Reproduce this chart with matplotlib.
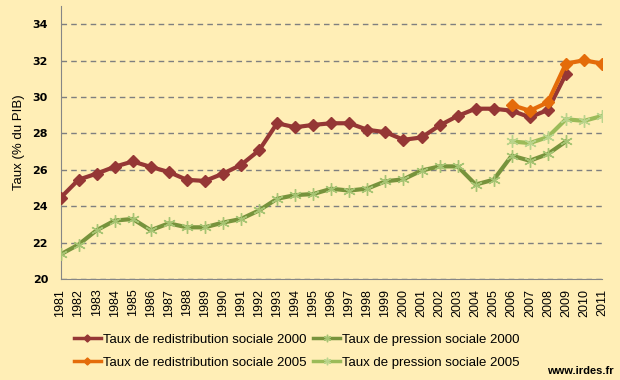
import numpy as np
import matplotlib.pyplot as plt

# years
years_2000 = list(range(1981, 2010))
years_2005 = list(range(2006, 2012))
year_labels = [str(y) for y in range(1981, 2012)]

# taux de redistribution sociale (base 2000)
redis_2000 = [24.46, 25.46, 25.79, 26.17, 26.46, 26.16, 25.88, 25.45, 25.39, 25.79,
              26.27, 27.07, 28.56, 28.34, 28.47, 28.56, 28.56, 28.20, 28.07, 27.65,
              27.78, 28.44, 28.96, 29.36, 29.36, 29.25, 28.89, 29.29, 31.26]
# taux de pression sociale (base 2000)
press_2000 = [21.35, 21.89, 22.68, 23.21, 23.30, 22.68, 23.06, 22.84, 22.84, 23.10,
              23.30, 23.77, 24.41, 24.61, 24.67, 24.96, 24.86, 24.97, 25.37, 25.48,
              25.96, 26.19, 26.19, 25.19, 25.46, 26.78, 26.50, 26.87, 27.56]
# base 2005
redis_2005 = [29.56, 29.25, 29.71, 31.84, 32.02, 31.84]
press_2005 = [27.56, 27.47, 27.80, 28.78, 28.69, 28.96]

bg = '#FFEEB6'
fig = plt.figure(figsize=(6.2, 3.8), dpi=100, facecolor=bg)
ax = fig.add_axes([0.0976, 0.2658, 0.8734, 0.7182], facecolor=bg)

star = (6, 2, 0)
ax.plot(years_2000, redis_2000, color='#953735', lw=3, marker='D', ms=6,
        label='Taux de redistribution sociale 2000', zorder=3)
ax.plot(years_2000, press_2000, color='#77933C', lw=3, marker=star, ms=9,
        mec='#A6C473', mew=1, label='Taux de pression sociale 2000', zorder=3)
ax.plot(years_2005, redis_2005, color='#E46C0A', lw=3, marker='D', ms=6,
        label='Taux de redistribution sociale 2005', zorder=3)
ax.plot(years_2005, press_2005, color='#9BBB59', lw=3, marker=star, ms=9,
        mec='#B9D48C', mew=1, label='Taux de pression sociale 2005', zorder=3)

ax.set_xlim(1981, 2011)
ax.set_ylim(20, 35)
ax.set_yticks(np.arange(20, 35, 2))
ax.set_yticklabels([str(v) for v in range(20, 35, 2)], fontsize=8,
                   fontweight='bold', family='DejaVu Sans')
ax.set_xticks(range(1981, 2012))
ax.set_xticklabels(year_labels, rotation=90, fontsize=9, family='Liberation Sans')
ax.tick_params(axis='x', length=0, pad=7)
ax.tick_params(axis='y', length=0, pad=9)
ax.yaxis.grid(True, color='#7F7F7F', ls=(0, (4, 3)), lw=1)
ax.set_axisbelow(True)
for s in ['top', 'right']:
    ax.spines[s].set_visible(False)
for s in ['left', 'bottom']:
    ax.spines[s].set_color('#868686')
ax.set_ylabel('Taux (% du PIB)', fontsize=9.5, family='Liberation Sans', labelpad=5)

h, l = ax.get_legend_handles_labels()
leg = fig.legend([h[0], h[2], h[1], h[3]], [l[0], l[2], l[1], l[3]], ncol=2,
                 loc='upper left', bbox_to_anchor=(0.108, 0.139), frameon=False,
                 prop={'family': 'Liberation Sans', 'size': 9.5}, handlelength=2.1,
                 handletextpad=0.15, columnspacing=0.45, labelspacing=0.8,
                 borderpad=0, markerscale=0.6)
for ln in leg.get_lines():
    ln.set_linewidth(2.5)
fig.text(0.99, 0.01, 'www.irdes.fr', ha='right', va='bottom', fontsize=8,
         fontweight='bold', family='Liberation Sans')

fig.savefig('out.png', dpi=100, facecolor=bg)
